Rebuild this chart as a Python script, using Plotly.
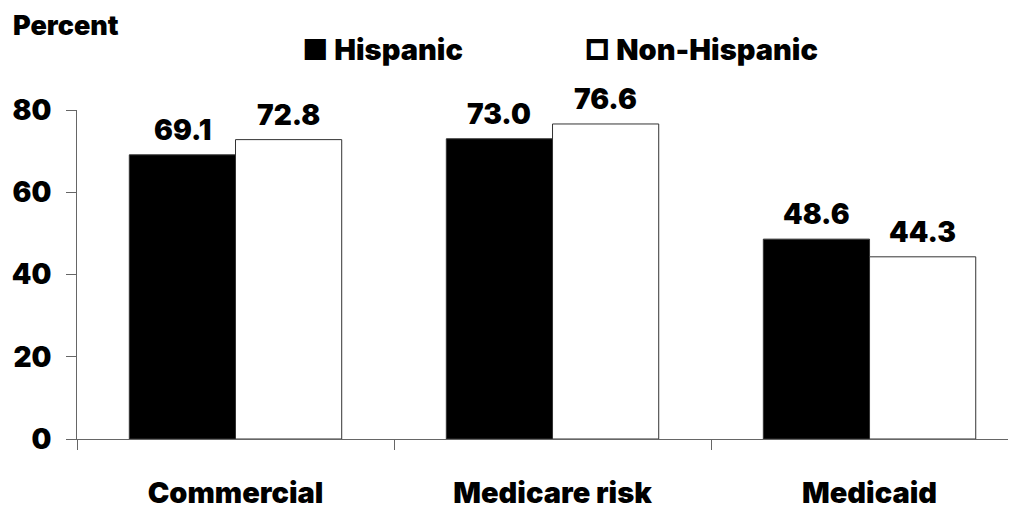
import plotly.graph_objects as go

categories = ["Commercial", "Medicare risk", "Medicaid"]
hispanic = [69.1, 73.0, 48.6]
non_hispanic = [72.8, 76.6, 44.3]
series_names = ["Hispanic", "Non-Hispanic"]
y_ticks = [0, 20, 40, 60, 80]

FONT = "Inter, Lato, DejaVu Sans, sans-serif"
WT = 900

fig = go.Figure()
fig.add_trace(go.Bar(x=categories, y=hispanic, name=series_names[0],
                     marker=dict(color="black", line=dict(color="#333333", width=1))))
fig.add_trace(go.Bar(x=categories, y=non_hispanic, name=series_names[1],
                     marker=dict(color="white", line=dict(color="#333333", width=1))))

PAGE_OFF = 8  # default body margin of the html page
W, H = 1016 - PAGE_OFF, 510 - PAGE_OFF
L, R, T = 77 - PAGE_OFF, 0, 110 - PAGE_OFF
PLOT_H = 334
B = H - T - PLOT_H
pw, ph = W - L - R, PLOT_H

def px_x(page_x):
    return (page_x - PAGE_OFF - L) / pw

def px_y(page_y):
    return 1 - (page_y - PAGE_OFF - T) / ph

off = 0.1675
label_font = dict(family=FONT, size=28, color="black", weight=WT)
annotations = []
for i, v in enumerate(hispanic):
    annotations.append(dict(x=i - off, y=v, xref="x", yref="y", text=f"{v:.1f}",
                            showarrow=False, yanchor="bottom", yshift=6, font=label_font))
for i, v in enumerate(non_hispanic):
    annotations.append(dict(x=i + off, y=v, xref="x", yref="y", text=f"{v:.1f}",
                            showarrow=False, yanchor="bottom", yshift=6, font=label_font))
annotations.append(dict(x=px_x(12), y=px_y(24), xref="paper", yref="paper", text="Percent",
                        showarrow=False, xanchor="left", yanchor="middle", borderpad=0,
                        font=dict(family=FONT, size=27, color="black", weight=WT)))
annotations.append(dict(x=px_x(301), y=px_y(49), xref="paper", yref="paper",
                        text="■ " + series_names[0],
                        showarrow=False, xanchor="left", yanchor="middle", borderpad=0,
                        font=dict(family=FONT, size=29, color="black", weight=WT)))
annotations.append(dict(x=px_x(583), y=px_y(49), xref="paper", yref="paper",
                        text="□ " + series_names[1],
                        showarrow=False, xanchor="left", yanchor="middle", borderpad=0,
                        font=dict(family=FONT, size=29, color="black", weight=WT)))

fig.update_layout(
    width=W, height=H,
    margin=dict(l=L, r=R, t=T, b=B, pad=0),
    paper_bgcolor="white", plot_bgcolor="white",
    barmode="group", bargap=0.33, bargroupgap=0,
    showlegend=False,
    annotations=annotations,
    font=dict(family=FONT, color="black"),
)
fig.update_xaxes(
    type="category",
    range=[-0.5, 2.462],
    tickson="boundaries",
    showline=True, linecolor="#666666", linewidth=1,
    ticks="outside", ticklen=10, tickcolor="#666666", tickwidth=1,
    showgrid=False, zeroline=False,
    tickfont=dict(family=FONT, size=29, color="black", weight=WT),
    ticklabelstandoff=28,
)
fig.update_yaxes(
    range=[0, 80], tickvals=y_ticks,
    showline=True, linecolor="#666666", linewidth=1,
    ticks="outside", ticklen=10, tickcolor="#666666", tickwidth=1,
    showgrid=False, zeroline=False,
    tickfont=dict(family=FONT, size=28, color="black", weight=WT),
    ticklabelstandoff=9,
)
fig.write_html("out.html")
